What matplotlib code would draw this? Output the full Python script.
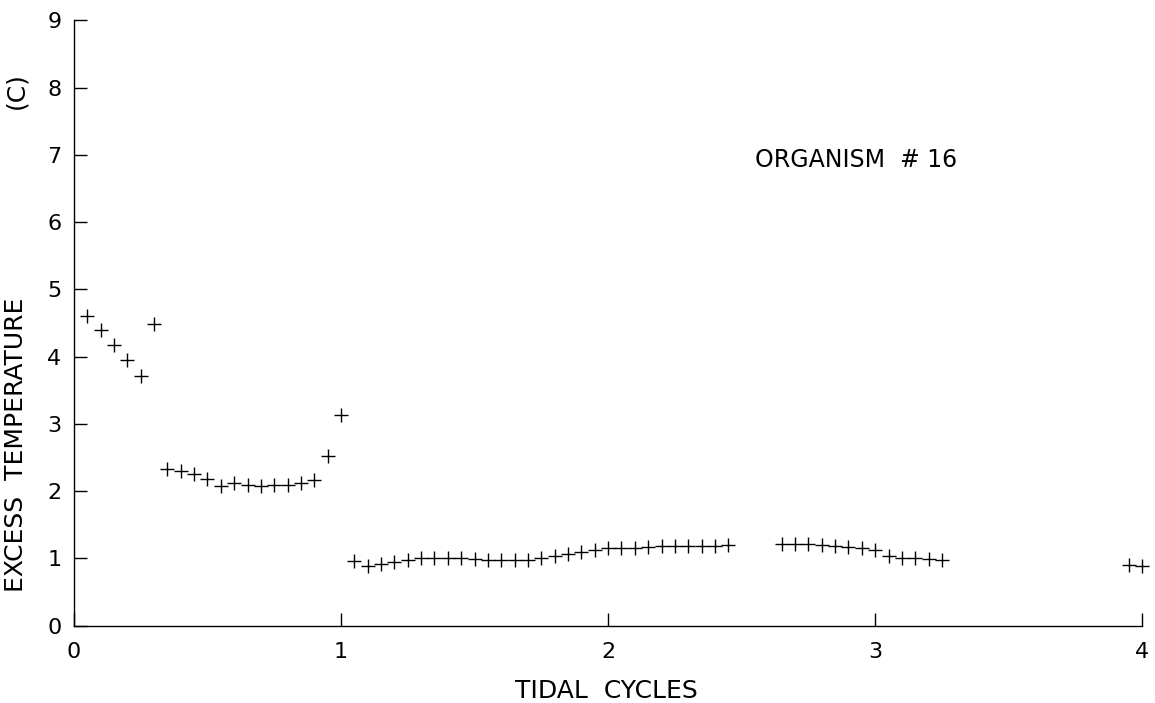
# excess temperature, organism 16
import matplotlib
matplotlib.use('Agg')
import matplotlib.pyplot as plt

# datos (ciclos de marea, exceso de temperatura en C)
x_a = [0.05, 0.10, 0.15, 0.20, 0.25, 0.30]
y_a = [4.61, 4.40, 4.18, 3.95, 3.71, 4.48]

x_b = [0.35, 0.40, 0.45, 0.50, 0.55, 0.60, 0.65, 0.70, 0.75, 0.80,
       0.85, 0.90, 0.95, 1.00]
y_b = [2.33, 2.30, 2.25, 2.18, 2.07, 2.12, 2.09, 2.07, 2.09, 2.09,
       2.12, 2.17, 2.53, 3.13]

x_c = [1.05, 1.10, 1.15, 1.20, 1.25, 1.30, 1.35, 1.40, 1.45, 1.50,
       1.55, 1.60, 1.65, 1.70, 1.75, 1.80, 1.85, 1.90, 1.95, 2.00,
       2.05, 2.10, 2.15, 2.20, 2.25, 2.30, 2.35, 2.40, 2.45]
y_c = [0.96, 0.88, 0.91, 0.95, 0.98, 1.00, 1.01, 1.01, 1.00, 0.99,
       0.98, 0.98, 0.97, 0.98, 1.00, 1.04, 1.07, 1.10, 1.13, 1.15,
       1.15, 1.16, 1.17, 1.18, 1.18, 1.18, 1.19, 1.19, 1.20]

x_d = [2.65, 2.70, 2.75, 2.80, 2.85, 2.90, 2.95, 3.00, 3.05, 3.10,
       3.15, 3.20, 3.25]
y_d = [1.22, 1.22, 1.21, 1.20, 1.19, 1.17, 1.16, 1.13, 1.04, 1.01,
       1.00, 0.99, 0.97]

x_e = [3.95, 4.00]
y_e = [0.90, 0.89]

xticks = [0, 1, 2, 3, 4]
yticks = [0, 1, 2, 3, 4, 5, 6, 7, 8, 9]

plt.rcParams['font.family'] = ['DejaVu Sans']

fig = plt.figure(figsize=(11.55, 7.03), dpi=100)
ax = fig.add_axes([0.064, 0.11, 0.925, 0.861])

for xs, ys in [(x_a, y_a), (x_b, y_b), (x_c, y_c), (x_d, y_d), (x_e, y_e)]:
    ax.plot(xs, ys, linestyle='none', marker='+', markersize=10.5,
            markeredgewidth=1.0, color='black', clip_on=False)

ax.set_xlim(0, 4)
ax.set_ylim(0, 9)
ax.spines['top'].set_visible(False)
ax.spines['right'].set_visible(False)
ax.spines['left'].set_linewidth(1.0)
ax.spines['bottom'].set_linewidth(1.0)

ax.set_xticks(xticks)
ax.set_yticks(yticks)
ax.tick_params(axis='y', direction='in', length=9.5, width=1.0, pad=9,
               labelsize=16)
ax.tick_params(axis='x', direction='in', length=9.5, width=1.0, pad=12,
               labelsize=16)

# titulos de ejes
fig.text(606 / 1155, 1 - 691 / 703, 'TIDAL  CYCLES', fontsize=18,
         ha='center', va='center')
fig.text(16 / 1155, 1 - 445 / 703, 'EXCESS  TEMPERATURE', fontsize=18,
         rotation=90, ha='center', va='center')
fig.text(16 / 1155, 1 - 91 / 703, '(C)', fontsize=18,
         rotation=90, ha='center', va='center')

ax.text(2.93, 6.93, 'ORGANISM  # 16', fontsize=17, ha='center', va='center')

fig.savefig('out.png', dpi=100)
